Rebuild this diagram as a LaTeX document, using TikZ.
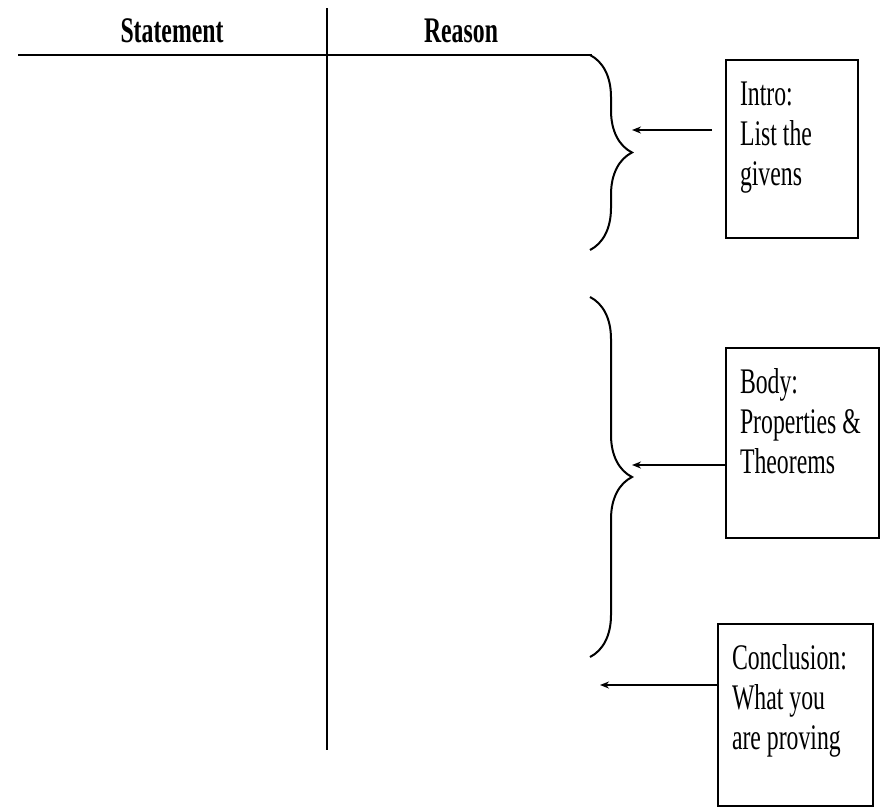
\documentclass[tikz,border=0pt]{standalone}
\usepackage{fontspec}
\setmainfont{Liberation Serif}[FakeStretch=0.66]
\usetikzlibrary{positioning,arrows.meta,decorations.pathreplacing}

\newcommand\notetext[3]{\parbox[t][#2][t]{#1}{\raggedright\strut #3}}

\tikzset{
  rule/.style={line width=2.2pt},
  heading/.style={font=\bfseries\fontsize{36}{40}\selectfont, inner sep=0pt},
  notebox/.style={draw, line width=2pt, anchor=north west, inner xsep=14pt,
    inner ysep=17pt, font=\fontsize{36}{40}\selectfont},
  pointer/.style={line width=2.2pt, -{Stealth[length=9pt,width=7pt]}},
  bracket/.style={line width=2pt, decorate, decoration={brace, amplitude=42pt}},
}

\begin{document}
\begin{tikzpicture}[x=1pt, y=-1pt]
  \useasboundingbox (0,0) rectangle (880,807);

  % table head
  \node[heading, anchor=base] (statement) at (172,42) {Statement};
  \node[heading, anchor=base] (reason) at (461,42) {Reason};
  \draw[rule] (18,55) -- (592,55);
  \draw[rule, line width=1.5pt] (327,8) -- (327,750);

  % braces
  \foreach \top/\bot in {55/250, 297/657} {
    \draw[bracket] (590,\top) -- (590,\bot);
  }

  % notes
  \node[notebox] (intro) at (725,59)
    {\notetext{104pt}{144pt}{Intro:\\List the\\givens}};
  \node[notebox] (body) at (725,347)
    {\notetext{125pt}{156pt}{Body:\\Properties \&\\Theorems}};
  \node[notebox] (conclusion) at (717,623)
    {\notetext{127pt}{148pt}{Conclusion:\\What you\\are proving}};

  \coordinate (introend) at (632,130);
  \coordinate (bodyend) at (632,465);
  \coordinate (conclend) at (600,685);
  \draw[pointer, shorten <=13pt] (intro.west |- introend) -- (introend);
  \draw[pointer] (body.west |- bodyend) -- (bodyend);
  \draw[pointer] (conclusion.west |- conclend) -- (conclend);
\end{tikzpicture}
\end{document}
